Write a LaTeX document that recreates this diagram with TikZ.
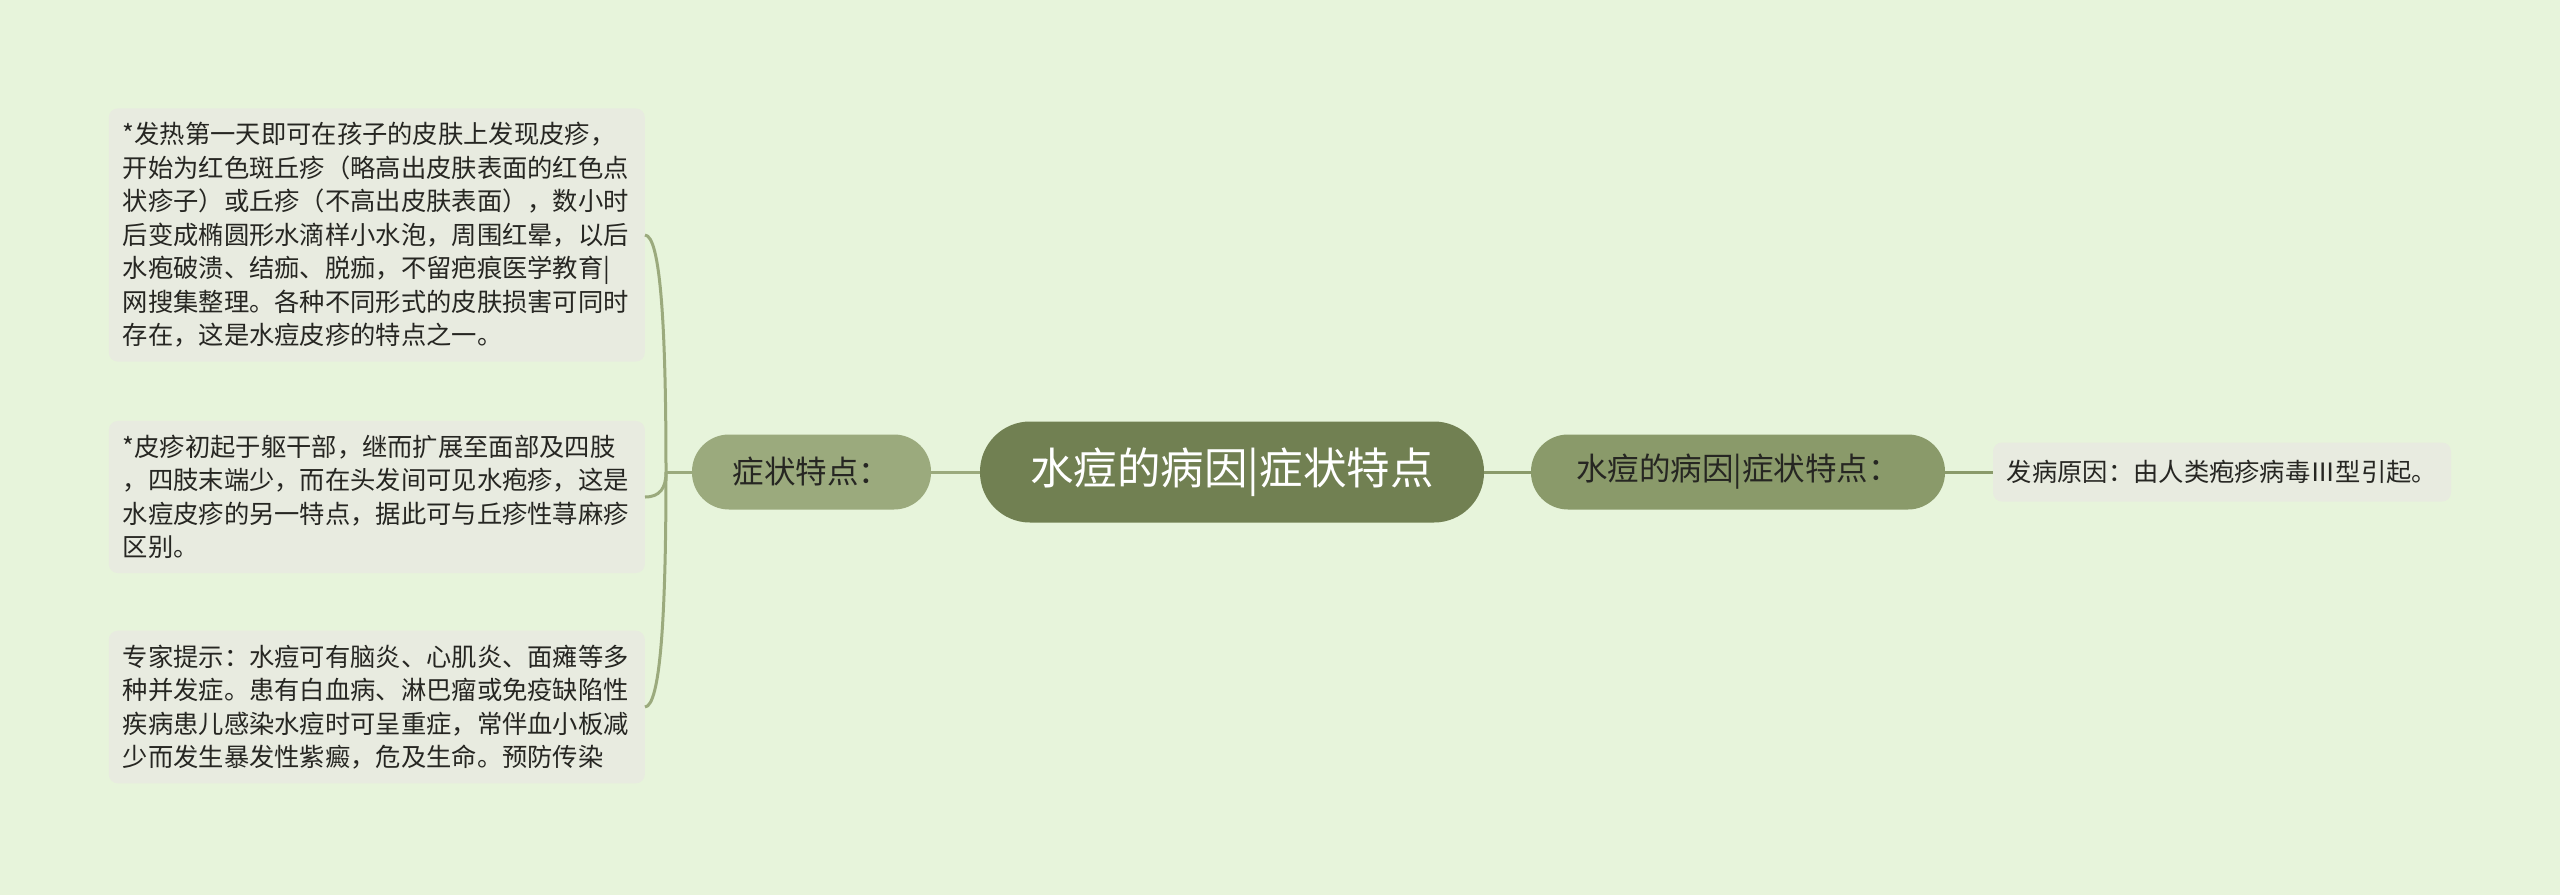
\documentclass[tikz,border=0pt]{standalone}
\usepackage{fontspec}
\setmainfont{Noto Sans CJK SC}
\definecolor{bgc}{HTML}{E7F4DB}
\definecolor{rootc}{HTML}{718052}
\definecolor{symc}{HTML}{9BAA7D}
\definecolor{causec}{HTML}{8A9A6A}
\definecolor{leafc}{HTML}{E8EBE0}
\definecolor{txtc}{HTML}{262622}
\begin{document}
\begin{tikzpicture}[x=1pt,y=-1pt,
  leaf/.style={fill=leafc, rounded corners=9pt, text width=508pt, inner xsep=14pt, inner ysep=14pt, align=left, text=txtc, font=\fontsize{25.3}{33.5}\selectfont},
  pill/.style={rounded corners=37pt, minimum height=75pt, inner sep=0pt, text=txtc},
  lconn/.style={draw=symc, line width=3pt},
  rconn/.style={draw=causec, line width=3pt}]
\fill[bgc] (0,0) rectangle (2560,895);
\useasboundingbox (0,0) rectangle (2560,895);
% root
\node[fill=rootc, rounded corners=50pt, minimum width=504pt, minimum height=101pt, inner sep=0pt, text=white, font=\fontsize{43.5}{48}\selectfont] (root) at (1232,472) {水痘的病因|症状特点};
% symptom node
\node[pill, fill=symc, minimum width=239pt, font=\fontsize{31.5}{36}\selectfont] (sym) at (811.5,472) {症状特点：};
% cause node
\node[pill, fill=causec, minimum width=414pt, font=\fontsize{31.5}{36}\selectfont] (cause) at (1738,472) {水痘的病因|症状特点：};
% right leaf
\node[fill=leafc, rounded corners=9pt, minimum width=458pt, minimum height=59pt, inner sep=0pt, text=txtc, font=\fontsize{25.3}{30}\selectfont] (cl) at (2222,472) {发病原因：由人类疱疹病毒Ⅲ型引起。};
% left leaves
\node[leaf, anchor=east] (l1) at (645,235) {*发热第一天即可在孩子的皮肤上发现皮疹，\\开始为红色斑丘疹（略高出皮肤表面的红色点\\状疹子）或丘疹（不高出皮肤表面），数小时\\后变成椭圆形水滴样小水泡，周围红晕，以后\\水疱破溃、结痂、脱痂，不留疤痕医学教育|\\网搜集整理。各种不同形式的皮肤损害可同时\\存在，这是水痘皮疹的特点之一。};
\node[leaf, anchor=east] (l2) at (645,497) {*皮疹初起于躯干部，继而扩展至面部及四肢\\，四肢末端少，而在头发间可见水疱疹，这是\\水痘皮疹的另一特点，据此可与丘疹性荨麻疹\\区别。};
\node[leaf, anchor=east] (l3) at (645,707) {专家提示：水痘可有脑炎、心肌炎、面瘫等多\\种并发症。患有白血病、淋巴瘤或免疫缺陷性\\疾病患儿感染水痘时可呈重症，常伴血小板减\\少而发生暴发性紫癜，危及生命。预防传染};
% connectors
\coordinate (j) at (666,472);
\draw[lconn] (root.west) -- (sym.east);
\draw[lconn] (sym.west) -- (j);
\draw[lconn] (j) .. controls (666,320) and (660,236) .. (l1.east);
\draw[lconn] (j) .. controls (666,488) and (660,497) .. (l2.east);
\draw[lconn] (j) .. controls (666,620) and (660,706) .. (l3.east);
\draw[rconn] (root.east) -- (cause.west);
\draw[rconn] (cause.east) -- (cl.west);
\end{tikzpicture}
\end{document}
